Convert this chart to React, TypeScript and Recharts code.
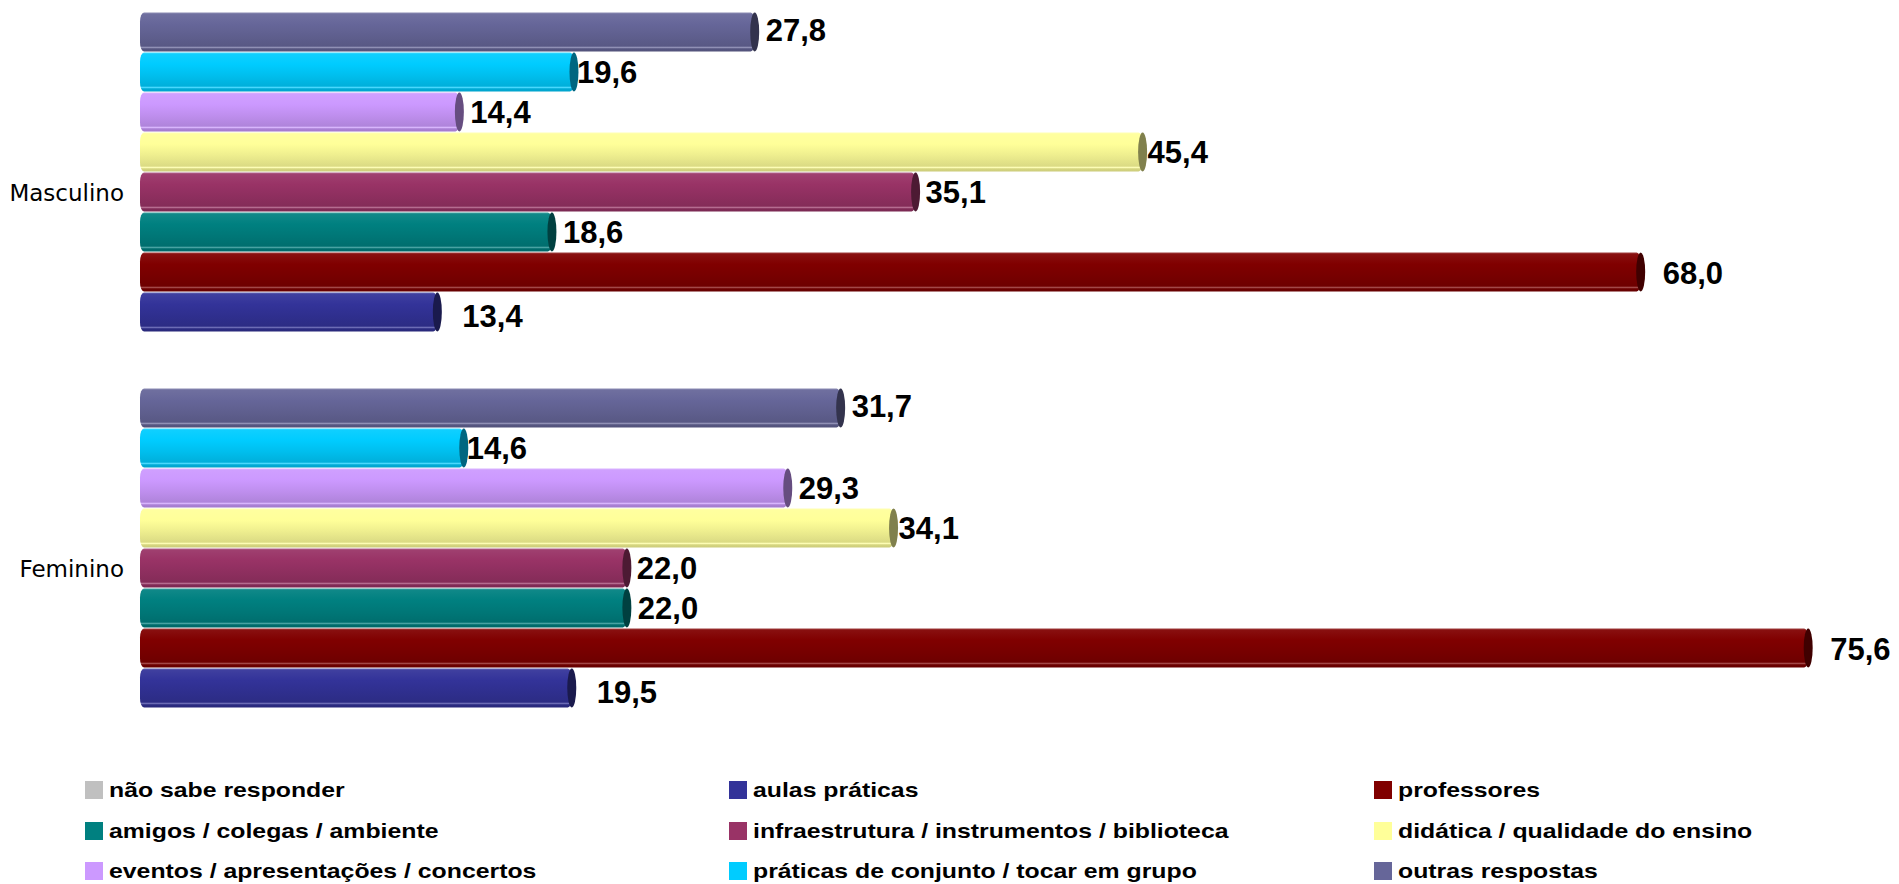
import React from 'react';
import { BarChart, Bar, XAxis, YAxis, LabelList } from 'recharts';

// ---- data ----
const categories = ['Masculino', 'Feminino'];
const naoSabe = [0, 0];
const aulasPraticas = [13.4, 19.5];
const professores = [68.0, 75.6];
const amigos = [18.6, 22.0];
const infraestrutura = [35.1, 22.0];
const didatica = [45.4, 34.1];
const eventos = [14.4, 29.3];
const praticasConjunto = [19.6, 14.6];
const outras = [27.8, 31.7];

const seriesNames = [
  'não sabe responder',
  'aulas práticas',
  'professores',
  'amigos / colegas / ambiente',
  'infraestrutura / instrumentos / biblioteca',
  'didática / qualidade do ensino',
  'eventos / apresentações / concertos',
  'práticas de conjunto / tocar em grupo',
  'outras respostas',
];
const seriesKeys = ['naoSabe', 'aulas', 'prof', 'amigos', 'infra', 'didatica', 'eventos', 'praticas', 'outras'];
const seriesValues = [naoSabe, aulasPraticas, professores, amigos, infraestrutura, didatica, eventos, praticasConjunto, outras];

// ---- styles ----
const seriesColors = ['#C0C0C0', '#333399', '#800000', '#008080', '#993366', '#FFFF99', '#CC99FF', '#00CCFF', '#666699'];
const labelOffsets: [number, number][] = [
  [0, 0], [25, 4], [22, 1], [11, 0], [10, 0], [5, 0], [11, 0], [3, 0], [11, -2],
];

const data = categories.map((c, i) => {
  const row: Record<string, any> = { category: c };
  seriesKeys.forEach((k, s) => { row[k] = seriesValues[s][i]; });
  return row;
});

function toRgb(hex: string) {
  const h = hex.replace('#', '');
  return [parseInt(h.slice(0, 2), 16), parseInt(h.slice(2, 4), 16), parseInt(h.slice(4, 6), 16)];
}
function rgb(c: number[]) {
  return `rgb(${c.map((v) => Math.max(0, Math.min(255, Math.round(v)))).join(',')})`;
}
function shade(hex: string, f: number) {
  return rgb(toRgb(hex).map((v) => v * f));
}
function tint(hex: string, t: number) {
  return rgb(toRgb(hex).map((v) => v + (255 - v) * t));
}

const Cylinder = (props: any) => {
  const { x, y, width, height, gid, capColor } = props;
  if (!width || width <= 0) return null;
  const h = height - 1;
  const yy = y + 0.5;
  return (
    <g>
      <rect x={x - 2} y={yy} width={width + 2} height={h} rx={4} ry={9} fill={`url(#${gid})`} />
      <ellipse cx={x + width} cy={yy + h / 2} rx={4.5} ry={h / 2} fill={capColor} />
    </g>
  );
};

const fmt = (v: number) => v.toFixed(1).replace('.', ',');

const makeLabel = (dx: number, dy: number) => (props: any) => {
  const { x, y, width, height, value } = props;
  if (!value) return null;
  return (
    <text
      x={Number(x) + Number(width) + dx}
      y={Number(y) + Number(height) / 2 + dy}
      dy="0.36em"
      textAnchor="start"
      fontFamily="'Liberation Sans', Arial, sans-serif"
      fontWeight="bold"
      fontSize={31}
      fill="#000"
    >
      {fmt(Number(value))}
    </text>
  );
};

const YTick = (props: any) => {
  const { x, y, payload } = props;
  return (
    <text x={x} y={y} dy="0.36em" textAnchor="end" fontFamily="'DejaVu Sans', Verdana, sans-serif" fontSize={23} fill="#000">
      {payload.value}
    </text>
  );
};

const drawOrder = [8, 7, 6, 5, 4, 3, 2, 1, 0];

export default function App() {
  return (
    <div style={{ position: 'absolute', left: 0, top: 0, width: 1899, height: 884, background: '#fff' }}>
      <BarChart
        width={1899}
        height={884}
        data={data}
        layout="vertical"
        margin={{ top: 5, right: 82, bottom: 127, left: 0 }}
        barCategoryGap={7}
        barGap={0}
      >
        <defs>
          {seriesColors.map((c, i) => (
            <linearGradient key={i} id={`grad${i}`} x1="0" y1="0" x2="0" y2="1">
              <stop offset="0" stopColor={tint(c, 0.25)} />
              <stop offset="0.05" stopColor={tint(c, 0.06)} />
              <stop offset="0.3" stopColor={c} />
              <stop offset="0.6" stopColor={shade(c, 0.93)} />
              <stop offset="0.86" stopColor={shade(c, 0.86)} />
              <stop offset="0.9" stopColor={tint(c, 0.3)} />
              <stop offset="0.93" stopColor={shade(c, 0.84)} />
              <stop offset="1" stopColor={shade(c, 0.8)} />
            </linearGradient>
          ))}
        </defs>
        <XAxis type="number" domain={[0, 76]} hide />
        <YAxis
          type="category"
          dataKey="category"
          width={142}
          axisLine={false}
          tickLine={false}
          tickSize={0}
          tickMargin={18}
          tick={<YTick />}
        />
        {drawOrder.map((s) => (
          <Bar
            key={seriesKeys[s]}
            dataKey={seriesKeys[s]}
            name={seriesNames[s]}
            fill={seriesColors[s]}
            isAnimationActive={false}
            shape={(p: any) => <Cylinder {...p} gid={`grad${s}`} capColor={shade(seriesColors[s], 0.5)} />}
          >
            {s !== 0 && <LabelList dataKey={seriesKeys[s]} content={makeLabel(labelOffsets[s][0], labelOffsets[s][1])} />}
          </Bar>
        ))}
      </BarChart>
      {seriesNames.map((name, i) => {
        const col = i % 3;
        const row = Math.floor(i / 3);
        const left = [85, 729, 1374][col];
        const cy = [790, 831, 871][row];
        return (
          <div key={name} style={{ position: 'absolute', left, top: cy - 9, height: 18, display: 'flex', alignItems: 'center' }}>
            <div style={{ width: 18, height: 18, background: seriesColors[i] }} />
            <span
              style={{
                marginLeft: 6,
                fontFamily: "'Liberation Sans', Arial, sans-serif",
                fontWeight: 'bold',
                fontSize: 20.5,
                lineHeight: '18px',
                color: '#000',
                display: 'inline-block',
                transform: 'scaleX(1.21)',
                transformOrigin: 'left center',
                whiteSpace: 'nowrap',
              }}
            >
              {name}
            </span>
          </div>
        );
      })}
    </div>
  );
}
